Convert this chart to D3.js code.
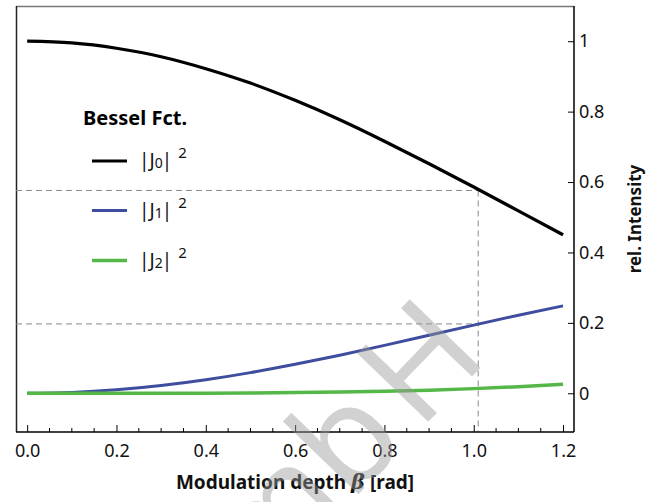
<!DOCTYPE html>
<html>
<head>
<meta charset="utf-8">
<script src="https://cdn.jsdelivr.net/npm/d3@7"></script>
<style>
  body { margin: 0; background: #fff; }
  text { font-family: "Noto Sans", "DejaVu Sans", sans-serif; }
</style>
</head>
<body>
<div id="chart"></div>
<script>
// modulation depth beta (rad)
const beta = [0, 0.1, 0.2, 0.3, 0.4, 0.5, 0.6, 0.7, 0.8, 0.9, 1.0, 1.1, 1.2]
// |J0|^2, |J1|^2, |J2|^2
const j0sq = [1, 0.995, 0.980, 0.956, 0.922, 0.881, 0.832, 0.777, 0.716, 0.652, 0.586, 0.518, 0.450]
const j1sq = [0, 0.0025, 0.0099, 0.022, 0.0384, 0.0587, 0.0822, 0.1082, 0.136, 0.1648, 0.1936, 0.2217, 0.2483]
const j2sq = [0, 0, 0, 0.0001, 0.0004, 0.0009, 0.0019, 0.0035, 0.0057, 0.0089, 0.0132, 0.0186, 0.0254]
const xTicks = [0, 0.2, 0.4, 0.6, 0.8, 1.0, 1.2]
const yTicks = [0, 0.2, 0.4, 0.6, 0.8, 1]
// marker lines
const markBeta = 1.01
const markLevels = [0.576, 0.197]

const series = [
  { name: '0', values: j0sq, color: '#000000', width: 3.2 },
  { name: '1', values: j1sq, color: '#3f4d9f', width: 3 },
  { name: '2', values: j2sq, color: '#55b748', width: 3.5 }
]

const width = 662
const height = 502
const svg = d3.select('#chart')
  .append('svg')
  .attr('width', width)
  .attr('height', height)

const plotLeft = 16
const plotRight = 574
const plotTop = 6
const plotBottom = 432

const x = d3.scaleLinear().domain([-0.025, 1.2245]).range([plotLeft, plotRight])
const y = d3.scaleLinear().domain([-0.11, 1.10]).range([plotBottom, plotTop])

// frame (top + left)
svg.append('line')
  .attr('x1', plotLeft).attr('x2', plotRight).attr('y1', plotTop + 0.5).attr('y2', plotTop + 0.5)
  .attr('stroke', '#777').attr('stroke-width', 1.5)
svg.append('line')
  .attr('x1', plotLeft + 0.5).attr('x2', plotLeft + 0.5).attr('y1', plotTop).attr('y2', plotBottom)
  .attr('stroke', '#222').attr('stroke-width', 1.5)

// dashed guides
const dash = svg.append('g')
  .attr('stroke', '#888')
  .attr('stroke-width', 1)
  .attr('stroke-dasharray', '6,4')
  .attr('fill', 'none')
markLevels.forEach(v => {
  dash.append('line')
    .attr('x1', plotLeft).attr('x2', x(markBeta))
    .attr('y1', y(v)).attr('y2', y(v))
})
dash.append('line')
  .attr('x1', x(markBeta)).attr('x2', x(markBeta))
  .attr('y1', y(markLevels[0])).attr('y2', plotBottom)

// bottom axis, ticks inside
const xAxis = d3.axisBottom(x)
  .tickValues(xTicks)
  .tickFormat(d3.format('.1f'))
  .tickSize(-7)
  .tickPadding(12)
const xAxisG = svg.append('g')
  .attr('transform', `translate(0,${plotBottom})`)
  .call(xAxis)
xAxisG.select('.domain').attr('d', `M${plotLeft},0H${plotRight}`).attr('stroke-width', 1.5)
xAxisG.selectAll('text').attr('font-size', 18).attr('fill', '#111')

const minor = d3.range(0, 1.201, 0.05).filter(v => Math.abs(Math.round(v * 5) - v * 5) > 0.01)
xAxisG.selectAll('.minor')
  .data(minor)
  .enter()
  .append('line')
  .attr('x1', d => x(d)).attr('x2', d => x(d))
  .attr('y1', 0).attr('y2', -4)
  .attr('stroke', '#000')

// right axis, ticks inside
const yAxis = d3.axisRight(y)
  .tickValues(yTicks)
  .tickFormat(d => d === 0 || d === 1 ? String(d) : d3.format('.1f')(d))
  .tickSize(-6)
  .tickPadding(5)
const yAxisG = svg.append('g')
  .attr('transform', `translate(${plotRight},0)`)
  .call(yAxis)
yAxisG.select('.domain').attr('d', `M0,${plotTop}V${plotBottom}`).attr('stroke-width', 1.5)
yAxisG.selectAll('text').attr('font-size', 18).attr('fill', '#111')

// curves
const line = d3.line()
  .x((d, i) => x(beta[i]))
  .y(d => y(d))
  .curve(d3.curveNatural)

svg.selectAll('.curve')
  .data(series)
  .enter()
  .append('path')
  .attr('class', 'curve')
  .attr('d', d => line(d.values))
  .attr('fill', 'none')
  .attr('stroke', d => d.color)
  .attr('stroke-width', d => d.width)

// legend
svg.append('text')
  .attr('x', 83)
  .attr('y', 125)
  .attr('font-size', 20)
  .attr('font-weight', 'bold')
  .text('Bessel Fct.')

const legendY = [161, 210.5, 260.5]
const item = svg.selectAll('.legend')
  .data(series)
  .enter()
  .append('g')
  .attr('class', 'legend')
  .attr('transform', (d, i) => `translate(0,${legendY[i]})`)
item.append('line')
  .attr('x1', 92).attr('x2', 127)
  .attr('y1', 0).attr('y2', 0)
  .attr('stroke', d => d.color)
  .attr('stroke-width', d => d.width)
const lbl = item.append('text')
  .attr('x', 139)
  .attr('y', 6)
  .attr('font-size', 19)
  .attr('fill', '#111')
lbl.append('tspan').text('|J')
lbl.append('tspan').attr('font-size', 14).attr('dy', 1).text(d => d.name)
lbl.append('tspan').attr('dy', -1).attr('dx', -1).text('|')
lbl.append('tspan').attr('font-size', 15).attr('dx', 6).attr('dy', -9).text('2')

// axis titles
const xt = svg.append('text')
  .attr('x', 295)
  .attr('y', 489)
  .attr('text-anchor', 'middle')
  .attr('font-size', 19)
  .attr('font-weight', 'bold')
  .attr('fill', '#111')
xt.append('tspan').text('Modulation depth ')
xt.append('tspan')
  .attr('font-family', '"DejaVu Serif", "Liberation Serif", serif')
  .attr('font-style', 'italic')
  .attr('font-weight', 'bold')
  .attr('font-size', 21)
  .text('β')
xt.append('tspan').text(' [rad]')

svg.append('text')
  .attr('transform', 'translate(641,219) rotate(-90)')
  .attr('text-anchor', 'middle')
  .attr('font-size', 17)
  .attr('font-weight', 'bold')
  .attr('fill', '#111')
  .text('rel. Intensity')

// watermark (partly off the page, as in the original)
const wm = svg.append('text')
  .attr('transform', 'translate(490,358) rotate(-46)')
  .attr('text-anchor', 'end')
  .attr('font-size', 138)
  .attr('fill', '#999')
  .attr('fill-opacity', 0.45)
wm.append('tspan').text('Gmb')
wm.append('tspan').attr('dx', 14).text('H')
</script>
</body>
</html>
